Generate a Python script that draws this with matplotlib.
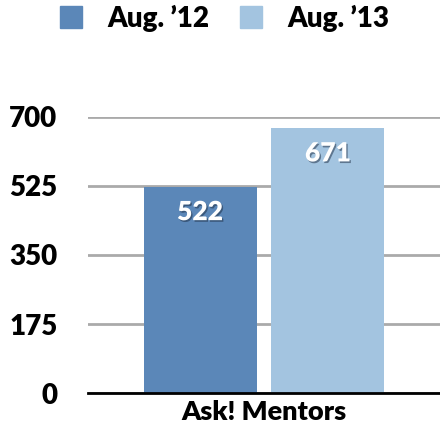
import matplotlib
matplotlib.use("Agg")
import matplotlib.pyplot as plt
import matplotlib.patheffects as pe
from matplotlib.patches import Patch

categories = ["Ask! Mentors"]
series_names = ["Aug. \u201912", "Aug. \u201913"]
values_12 = [522]
values_13 = [671]
yticks = [0, 175, 350, 525, 700]
colors = ["#5b87b8", "#a3c4e0"]

plt.rcParams['font.family'] = ['Lato', 'DejaVu Sans']
WEIGHT = 'heavy'

fig = plt.figure(figsize=(4.4, 4.3), dpi=100)
ax = fig.add_axes([0.2, 0.086, 0.8, 0.642])

w = 0.321
off = w / 2 + 0.0213
x = 0
for i, (vals, c) in enumerate(zip([values_12, values_13], colors)):
    pos = x - off if i == 0 else x + off
    b = ax.bar([pos], vals, width=w, color=c, zorder=3)
    for rect, v in zip(b, vals):
        t = ax.annotate(str(v), (rect.get_x() + rect.get_width() / 2, v),
                        xytext=(0, -18), textcoords='offset points',
                        ha='center', va='center', color='white',
                        fontsize=19, fontweight=WEIGHT, zorder=5)
        t.set_path_effects([pe.withSimplePatchShadow(offset=(1.0, -1.2), shadow_rgbFace='#1a2a40', alpha=0.5)])

ax.set_xlim(-0.5, 0.5)
ax.set_ylim(0, 700)
ax.set_yticks(yticks)
ax.set_yticklabels([str(t) for t in yticks], fontsize=20, fontweight=WEIGHT)
ax.set_xticks([0])
ax.set_xticklabels(categories, fontsize=19.5, fontweight=WEIGHT)
ax.tick_params(axis='x', length=0, pad=5)
ax.tick_params(axis='y', length=0, pad=22)
ax.grid(axis='y', color='#aaaaaa', linewidth=2, zorder=0)
for s in ['top', 'right', 'left']:
    ax.spines[s].set_visible(False)
ax.spines['bottom'].set_color('black')
ax.spines['bottom'].set_linewidth(2)
ax.spines['bottom'].set_zorder(4)

handles = [Patch(color=c) for c in colors]
fig.legend(handles, series_names, loc='upper center', bbox_to_anchor=(0.51, 1.025),
           ncol=2, frameon=False, prop={'size': 20, 'weight': WEIGHT},
           handlelength=0.8, handleheight=0.8, handletextpad=0.9, columnspacing=1.1,
           borderaxespad=0.15)

fig.savefig("out.png", dpi=100)
